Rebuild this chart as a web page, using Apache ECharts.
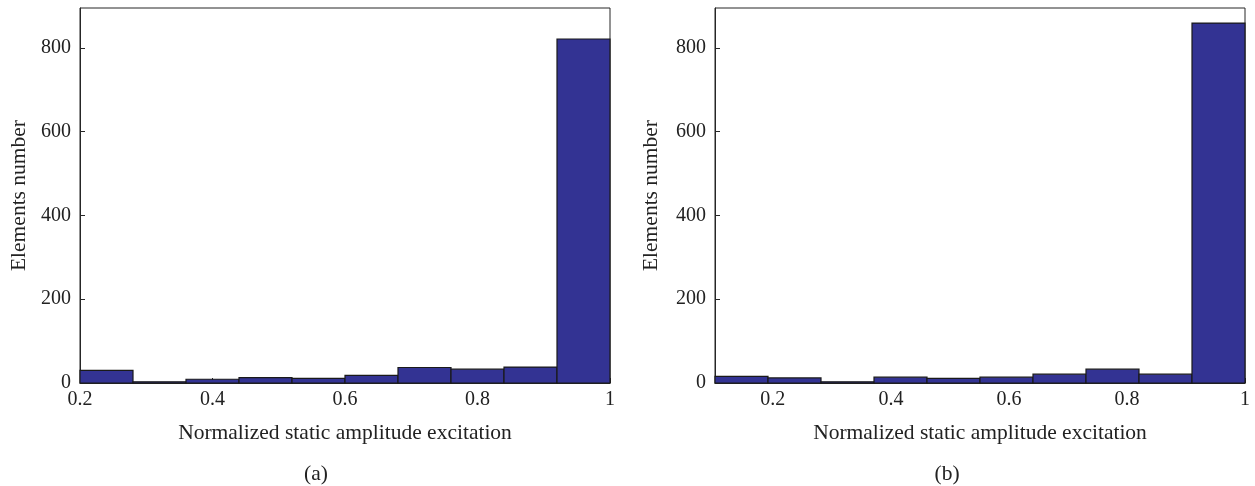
<!DOCTYPE html>
<html>
<head>
<meta charset="utf-8">
<script src="https://cdn.jsdelivr.net/npm/echarts@6/dist/echarts.min.js"></script>
<style>
  html, body { margin: 0; padding: 0; background: #fff; }
  #chart { width: 1255px; height: 486px; }
</style>
</head>
<body>
<div id="chart"></div>
<script>
// Histogram (a): bin edges and element counts
const binEdgesA = [0.2, 0.28, 0.36, 0.44, 0.52, 0.6, 0.68, 0.76, 0.84, 0.92, 1.0];
const countsA = [30, 3, 9, 13, 11, 18, 37, 33, 38, 821];

// Histogram (b): bin edges and element counts
const binEdgesB = [0.102, 0.1918, 0.2816, 0.3714, 0.4612, 0.551, 0.6408, 0.7306, 0.8204, 0.9102, 1.0];
const countsB = [16, 12, 3, 14, 11, 14, 21, 33, 21, 859];

// Axis ticks
const xTicks = [0.2, 0.4, 0.6, 0.8, 1];
const yTicks = [0, 200, 400, 600, 800];
const yMax = 895;

const xTitle = 'Normalized static amplitude excitation';
const yTitle = 'Elements number';
const panelLabels = ['(a)', '(b)'];

const FONT = '"Liberation Serif", "DejaVu Serif", serif';
const AXIS_COLOR = '#262626';
const BAR_COLOR = '#333393';
const TEXT_COLOR = '#222';

function histData(edges, counts) {
  return counts.map((c, i) => [edges[i], edges[i + 1], c]);
}

function renderBin(params, api) {
  const p0 = api.coord([api.value(0), 0]);
  const p1 = api.coord([api.value(1), api.value(2)]);
  return {
    type: 'rect',
    shape: { x: p0[0], y: p1[1], width: p1[0] - p0[0], height: p0[1] - p1[1] },
    style: { fill: BAR_COLOR, stroke: '#1a1a1a', lineWidth: 1.2 }
  };
}

function xAxisFor(gridIndex, min) {
  return {
    type: 'value', gridIndex, min, max: 1,
    name: xTitle, nameLocation: 'middle', nameGap: 39,
    nameTextStyle: { fontFamily: FONT, fontSize: 21.5, color: TEXT_COLOR },
    axisLine: { show: true, lineStyle: { color: AXIS_COLOR, width: 1 } },
    axisTick: { show: true, inside: true, length: 5, customValues: xTicks, lineStyle: { color: AXIS_COLOR } },
    axisLabel: {
      customValues: xTicks, margin: 7, fontFamily: FONT, fontSize: 20, color: TEXT_COLOR,
      formatter: v => String(Math.round(v * 10) / 10)
    },
    splitLine: { show: false }
  };
}

function yAxisFor(gridIndex, nameGap) {
  return {
    type: 'value', gridIndex, min: 0, max: yMax,
    name: yTitle, nameLocation: 'middle', nameGap,
    nameTextStyle: { fontFamily: FONT, fontSize: 21.5, color: TEXT_COLOR },
    axisLine: { show: true, lineStyle: { color: AXIS_COLOR, width: 1 } },
    axisTick: { show: true, inside: true, length: 5, customValues: yTicks, lineStyle: { color: AXIS_COLOR } },
    axisLabel: { customValues: yTicks, margin: 9, fontFamily: FONT, fontSize: 20, color: TEXT_COLOR },
    splitLine: { show: false }
  };
}

const chart = echarts.init(document.getElementById('chart'), null, { renderer: 'canvas' });
chart.setOption({
  animation: false,
  backgroundColor: '#fff',
  grid: [
    { left: 80, right: 645, top: 8, bottom: 103, show: true, borderColor: AXIS_COLOR, borderWidth: 1 },
    { left: 715, right: 10, top: 8, bottom: 103, show: true, borderColor: AXIS_COLOR, borderWidth: 1 }
  ],
  xAxis: [xAxisFor(0, binEdgesA[0]), xAxisFor(1, binEdgesB[0])],
  yAxis: [yAxisFor(0, 50), yAxisFor(1, 53)],
  title: [
    { text: panelLabels[0], left: 311, top: 458, textAlign: 'center',
      textStyle: { fontFamily: FONT, fontSize: 21.5, fontWeight: 'normal', color: TEXT_COLOR } },
    { text: panelLabels[1], left: 942, top: 458, textAlign: 'center',
      textStyle: { fontFamily: FONT, fontSize: 21.5, fontWeight: 'normal', color: TEXT_COLOR } }
  ],
  series: [
    { type: 'custom', xAxisIndex: 0, yAxisIndex: 0, renderItem: renderBin,
      encode: { x: [0, 1], y: 2 }, data: histData(binEdgesA, countsA) },
    { type: 'custom', xAxisIndex: 1, yAxisIndex: 1, renderItem: renderBin,
      encode: { x: [0, 1], y: 2 }, data: histData(binEdgesB, countsB) }
  ]
});
</script>
</body>
</html>
